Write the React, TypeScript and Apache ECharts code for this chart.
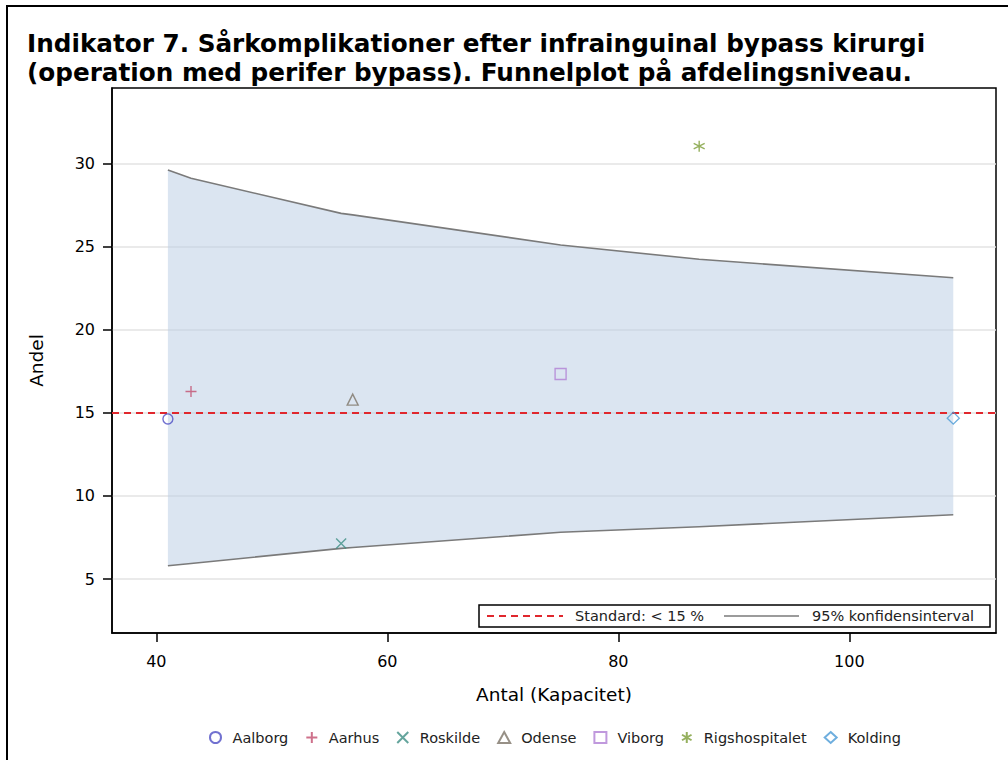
import React, { useEffect, useRef } from "react";
import * as echarts from "echarts";

const titleLines = [
  "Indikator 7. Sårkomplikationer efter infrainguinal bypass kirurgi",
  "(operation med perifer bypass). Funnelplot på afdelingsniveau.",
];
const hospitals = ["Aalborg", "Aarhus", "Roskilde", "Odense", "Viborg", "Rigshospitalet", "Kolding"];
const antal = [41, 43, 56, 57, 75, 87, 109];
const andel = [14.63, 16.28, 7.14, 15.79, 17.33, 31.03, 14.68];
const ciX = [41, 43, 56, 57, 75, 87, 109];
const ciUpper = [29.6, 29.1, 26.99, 26.9, 25.09, 24.23, 23.12];
const ciLower = [5.8, 5.94, 6.85, 6.9, 7.82, 8.15, 8.87];
const standardValue = 15;
const xTicks = [40, 60, 80, 100];
const yTicks = [5, 10, 15, 20, 25, 30];
const legendStandard = "Standard: < 15 %";
const legendCI = "95% konfidensinterval";

const FONT = "'DejaVu Sans', Verdana, sans-serif";

const markerSymbols = [
  "circle",
  "path://M5,0L5,10M0,5L10,5",
  "path://M0,0L10,10M0,10L10,0",
  "triangle",
  "rect",
  "path://M5,0L5,10M0.67,2.5L9.33,7.5M0.67,7.5L9.33,2.5",
  "diamond",
];
const markerColors = ["#4d4dc4", "#c24e6e", "#3e8e84", "#7d7468", "#b07fd4", "#7a9c36", "#4a9ad6"];
const markerSizes = [10, 11, 10, 11, 11, 11, 12];

export default function App() {
  const ref = useRef<HTMLDivElement>(null);
  useEffect(() => {
    document.body.style.margin = "0";
    const chart = echarts.init(ref.current!, null, { renderer: "svg" });

    const scatterSeries = hospitals.map((h, i) => ({
      name: h,
      type: "scatter",
      z: 5,
      symbol: markerSymbols[i],
      symbolSize: markerSizes[i],
      itemStyle: { color: "rgba(0,0,0,0)", borderColor: markerColors[i], borderWidth: 1.4 },
      data: [[antal[i], andel[i]]],
    }));

    const bandData = ciX.map((x, i) => [x, ciLower[i], ciUpper[i]]);

    const option: any = {
      animation: false,
      backgroundColor: "#fff",
      title: {
        text: titleLines.join("\n"),
        left: 27,
        top: 29,
        padding: 0,
        textStyle: {
          fontFamily: FONT,
          fontWeight: "bold",
          fontSize: 24.7,
          lineHeight: 29,
          color: "#000",
        },
      },
      grid: {
        left: 112,
        right: 12,
        top: 88,
        bottom: 127,
        show: true,
        borderColor: "#000",
        borderWidth: 1.5,
        backgroundColor: "transparent",
      },
      xAxis: {
        type: "value",
        min: 36.16,
        max: 112.7,
        name: "Antal (Kapacitet)",
        nameLocation: "middle",
        nameGap: 52,
        nameTextStyle: { fontFamily: FONT, fontSize: 18.5, color: "#000" },
        axisLine: { show: true, lineStyle: { color: "#000", width: 1.5 } },
        axisTick: { show: true, length: 9, customValues: xTicks, lineStyle: { color: "#000", width: 1.5 } },
        axisLabel: { customValues: xTicks, margin: 20, fontFamily: FONT, fontSize: 16, color: "#000" },
        splitLine: { show: false },
      },
      yAxis: {
        type: "value",
        min: 1.76,
        max: 34.53,
        name: "Andel",
        nameLocation: "middle",
        nameGap: 66,
        nameTextStyle: { fontFamily: FONT, fontSize: 18.5, color: "#000" },
        axisLine: { show: true, lineStyle: { color: "#000", width: 1.5 } },
        axisTick: { show: true, length: 9, customValues: yTicks, lineStyle: { color: "#000", width: 1.5 } },
        axisLabel: { customValues: yTicks, margin: 17, fontFamily: FONT, fontSize: 16, color: "#000" },
        splitLine: { show: true, lineStyle: { color: "#e3e3e3", width: 1.5 } },
      },
      legend: {
        top: 725,
        left: 204,
        itemWidth: 12,
        itemHeight: 11,
        itemGap: 17,
        selectedMode: false,
        textStyle: { fontFamily: FONT, fontSize: 14.5, color: "#222", padding: [0, 0, 0, 6] },
        data: hospitals.map((h, i) => ({ name: h, icon: markerSymbols[i] })),
      },
      series: [
        {
          name: "ci",
          type: "custom",
          z: 2,
          silent: true,
          encode: { x: 0, y: [1, 2] },
          data: bandData,
          renderItem: (params: any, api: any) => {
            if (params.dataIndex !== 0) return null;
            const upperPts = ciX.map((x, i) => api.coord([x, ciUpper[i]]));
            const lowerPts = ciX.map((x, i) => api.coord([x, ciLower[i]]));
            const poly = upperPts.concat(lowerPts.slice().reverse());
            return {
              type: "group",
              children: [
                {
                  type: "polygon",
                  shape: { points: poly },
                  style: { fill: "rgba(183,203,228,0.5)", stroke: "none" },
                },
                {
                  type: "polyline",
                  shape: { points: upperPts },
                  style: { fill: "none", stroke: "#7a7a7a", lineWidth: 1.6 },
                },
                {
                  type: "polyline",
                  shape: { points: lowerPts },
                  style: { fill: "none", stroke: "#7a7a7a", lineWidth: 1.6 },
                },
              ],
            };
          },
        },
        {
          name: "standard",
          type: "line",
          z: 3,
          symbol: "none",
          data: [],
          markLine: {
            silent: true,
            symbol: ["none", "none"],
            label: { show: false },
            lineStyle: { color: "#e0272d", type: [7, 5], width: 2 },
            data: [{ yAxis: standardValue }],
          },
        },
        ...scatterSeries,
      ],
      graphic: [
        {
          type: "rect",
          z: -10,
          shape: { x: 7, y: 6, width: 1100, height: 1000 },
          style: { fill: "none", stroke: "#000", lineWidth: 2 },
        },
        {
          type: "group",
          z: 100,
          children: [
            {
              type: "rect",
              shape: { x: 479, y: 605, width: 511, height: 22 },
              style: { fill: "#fff", stroke: "#000", lineWidth: 1.5 },
            },
            {
              type: "line",
              shape: { x1: 487, y1: 616, x2: 563, y2: 616 },
              style: { stroke: "#e0272d", lineWidth: 2, lineDash: [7, 5] },
            },
            {
              type: "text",
              x: 575,
              y: 616,
              style: {
                text: legendStandard,
                fontFamily: FONT,
                fontSize: 14.5,
                fill: "#222",
                verticalAlign: "middle",
                align: "left",
              },
            },
            {
              type: "line",
              shape: { x1: 724, y1: 616, x2: 799, y2: 616 },
              style: { stroke: "#7a7a7a", lineWidth: 1.6 },
            },
            {
              type: "text",
              x: 812,
              y: 616,
              style: {
                text: legendCI,
                fontFamily: FONT,
                fontSize: 14.5,
                fill: "#222",
                verticalAlign: "middle",
                align: "left",
              },
            },
          ],
        },
      ],
    };

    chart.setOption(option);
    return () => chart.dispose();
  }, []);

  return <div ref={ref} style={{ width: 1008, height: 760 }} />;
}
